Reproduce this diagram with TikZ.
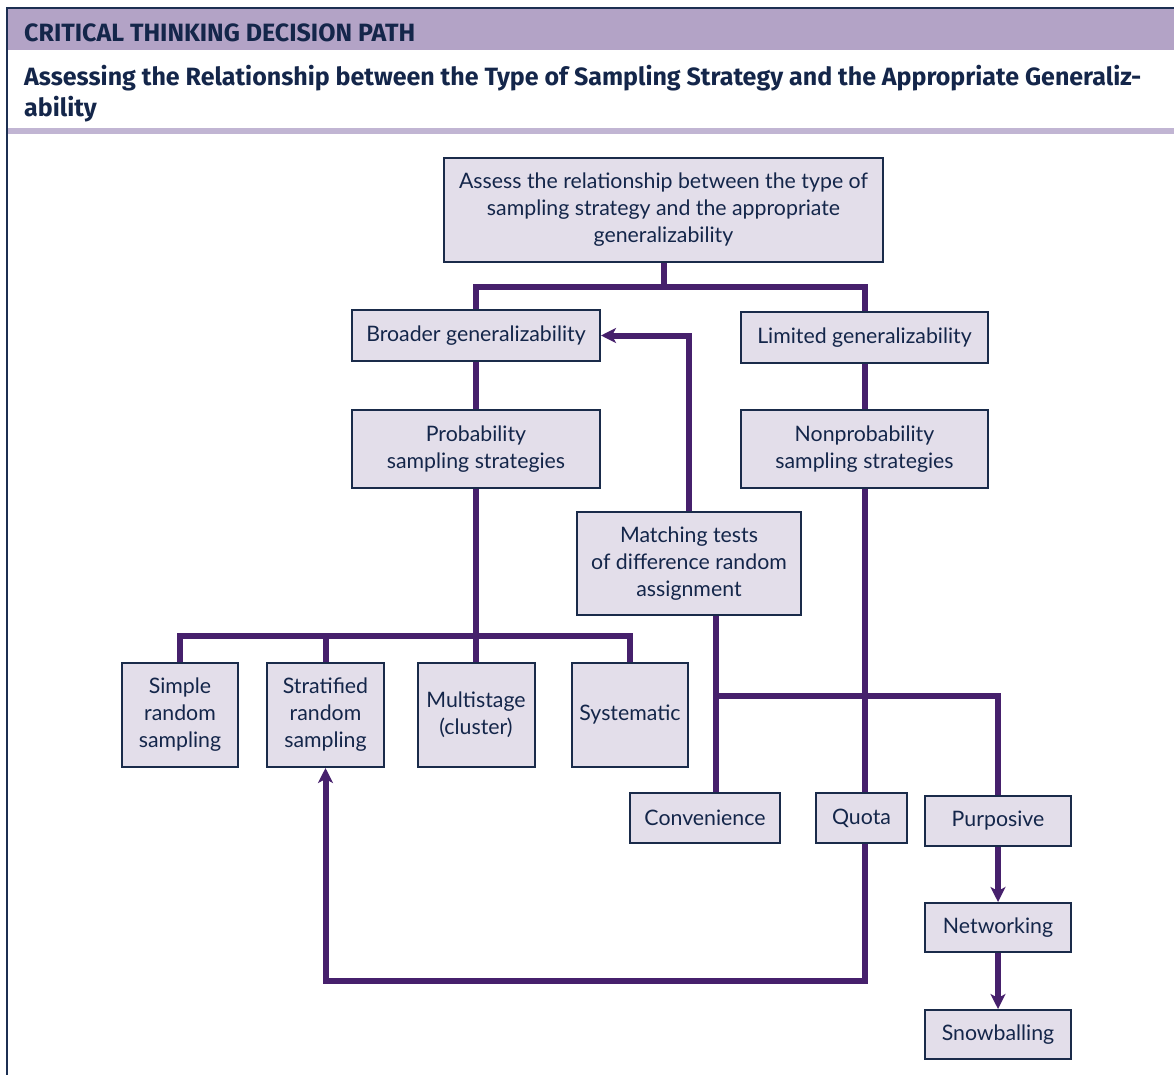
\documentclass[tikz,border=0pt]{standalone}
\usepackage{fontspec}
\setmainfont{Lato}
\newfontfamily\headfont{Fira Sans}
\usetikzlibrary{arrows.meta}

\definecolor{ink}{HTML}{14264A}
\definecolor{frameline}{HTML}{1C2F52}
\definecolor{bandtop}{HTML}{B3A3C6}
\definecolor{bandlow}{HTML}{C1B5D3}
\definecolor{boxfill}{HTML}{E3DEEA}
\definecolor{boxline}{HTML}{1A2B4A}
\definecolor{wire}{HTML}{46206C}

\tikzset{
  box/.style={draw=boxline, line width=2pt, fill=boxfill, text=ink,
    align=center, inner sep=0pt, font=\fontsize{21.3}{27}\selectfont},
  sized/.style 2 args={minimum width=#1pt, minimum height=#2pt},
  conn/.style={draw=wire, line width=6pt},
  flow/.style={conn, -{Stealth[length=15pt, width=15pt, inset=4pt]}},
}

\begin{document}
\begin{tikzpicture}[x=1pt, y=-1pt]
\useasboundingbox (0,0) rectangle (1174,1075);

% header panel
\fill[bandtop] (7,9) rectangle (1174,50);
\fill[bandlow] (7,128) rectangle (1174,134);
\draw[frameline, line width=2pt] (1174,8) -- (7,8) -- (7,1075);
\node[anchor=base west, inner sep=0pt, text=ink, font=\headfont\bfseries\fontsize{25}{30}\selectfont]
  (title) at (24,42) {CRITICAL THINKING DECISION PATH};
\node[anchor=base west, inner sep=0pt, text=ink, align=left,
  font=\headfont\bfseries\fontsize{25}{31}\selectfont]
  (subtitle) at (24,117) {Assessing the Relationship between the Type of Sampling Strategy and the Appropriate Generaliz-\\ability};

% decision boxes
\node[box, sized={439}{104}] (top) at (663.5,210)
  {Assess the relationship between the type of\\sampling strategy and the appropriate\\generalizability};
\node[box, sized={248}{51}] (broad) at (476,335.5) {Broader generalizability};
\node[box, sized={247}{51}] (limit) at (864.5,337.5) {Limited generalizability};
\node[box, sized={248}{78}] (prob) at (476,449) {Probability\\sampling strategies};
\node[box, sized={247}{78}] (nonprob) at (864.5,449) {Nonprobability\\sampling strategies};
\node[box, sized={224}{103}] (match) at (689,563.5) {Matching tests\\of difference random\\assignment};
\node[box, sized={116}{104}] (simple) at (180,715) {Simple\\random\\sampling};
\node[box, sized={117}{104}] (strat) at (325.5,715) {Stratified\\random\\sampling};
\node[box, sized={117}{104}] (multi) at (476,715) {Multistage\\(cluster)};
\node[box, sized={116}{104}] (syst) at (630,715) {Systematic};
\node[box, sized={150}{50}] (conv) at (705,818) {Convenience};
\node[box, sized={91}{50}] (quota) at (861.5,818) {Quota};
\node[box, sized={146}{50}] (purp) at (998,821) {Purposive};
\node[box, sized={146}{49}] (netw) at (998,927.5) {Networking};
\node[box, sized={146}{49}] (snow) at (998,1034.5) {Snowballing};

% junction points
\coordinate (tj) at (663.5,287);
\coordinate (pj) at (476,636);
\coordinate (mx) at (716,696);
\coordinate (lp) at (325.5,981);

% connectors
\draw[conn] (top.south) -- (tj);
\draw[conn] (broad.north) |- (tj) -| (limit.north);
\draw[conn] (broad.south) -- (prob.north);
\draw[conn] (limit.south) -- (nonprob.north);
\draw[conn] (prob.south) -- (multi.north);
\draw[conn] (simple.north) |- (pj) -| (syst.north);
\draw[conn] (strat.north) -- (strat.north |- pj);
\draw[flow] (match.north) |- (broad.east);
\draw[conn] (mx |- match.south) -- (mx |- conv.north);
\draw[conn] (mx) -| (purp.north);
\draw[conn] (nonprob.south) -- (nonprob.south |- quota.north);
\draw[flow] (nonprob.south |- quota.south) |- (lp) -- (strat.south);
\draw[flow] (purp.south) -- (netw.north);
\draw[flow] (netw.south) -- (snow.north);
\end{tikzpicture}
\end{document}
